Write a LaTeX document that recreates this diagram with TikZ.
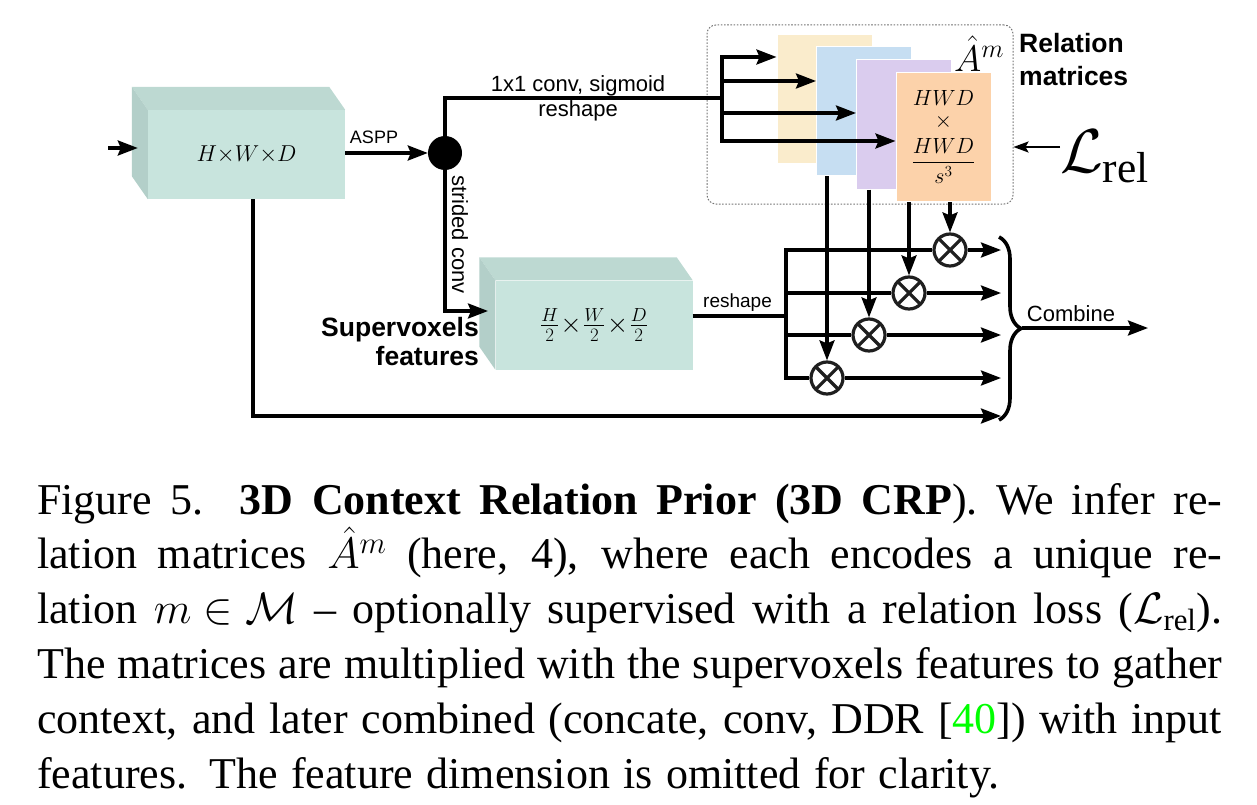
\RequirePackage{fix-cm}
\documentclass[tikz,border=0pt]{standalone}
\usepackage{amsmath}
\usepackage{fontspec}
\setmainfont{Liberation Serif}
\setsansfont{Liberation Sans}
\usetikzlibrary{arrows.meta,decorations.pathreplacing,positioning}
\definecolor{boxfront}{RGB}{200,228,221}
\definecolor{boxtop}{RGB}{189,217,210}
\definecolor{boxside}{RGB}{179,207,201}
\definecolor{matyellow}{RGB}{250,236,204}
\definecolor{matblue}{RGB}{198,222,242}
\definecolor{matpurple}{RGB}{218,204,238}
\definecolor{matorange}{RGB}{252,210,170}
\definecolor{citegreen}{RGB}{0,255,0}
\newcommand{\boxfaces}[1]{%
	\fill[boxtop] (#1.north west) -- ++(-16,23) -- ([shift={(-16,23)}]#1.north east) -- (#1.north east) -- cycle;
	\fill[boxside] (#1.north west) -- ++(-16,23) -- ([shift={(-16,23)}]#1.south west) -- (#1.south west) -- cycle;}
\begin{document}
\begin{tikzpicture}[x=1pt,y=1pt,
	face/.style={fill=boxfront, inner sep=0pt, minimum width=197pt, minimum height=89pt, font=\fontsize{23}{25}\selectfont},
	panel/.style={draw=white, line width=1pt, minimum width=95pt, minimum height=129pt, inner sep=0pt},
	conn/.style={line width=3.2pt},
	arr/.style={conn, -{Stealth[length=20pt, width=15pt, inset=3pt]}},
	lbl/.style={font=\sffamily\fontsize{22}{24}\selectfont, inner sep=0pt},
	heading/.style={font=\sffamily\bfseries\fontsize{26.5}{33}\selectfont, inner sep=0pt},
	mult/.style={circle, draw=black!88, line width=3.2pt, minimum size=32pt, inner sep=0pt,
		path picture={\draw[black!88, line width=3.2pt] (path picture bounding box.north west) -- (path picture bounding box.south east) (path picture bounding box.north east) -- (path picture bounding box.south west);}}]
	\useasboundingbox (0,0) rectangle (1257,-805);
	
	\node[face] (in) at (246.5,-154.5) {$H{\times}W{\times}D$};
	\boxfaces{in}
	\node[face, font=\fontsize{27}{29}\selectfont] (sv) at (594,-325) {$\frac{H}{2}\!\times\!\frac{W}{2}\!\times\!\frac{D}{2}$};
	\boxfaces{sv}
	\node[heading, align=right, anchor=north east, font=\sffamily\bfseries\fontsize{26.5}{29}\selectfont] (svname) at (479,-317) {Supervoxels\\features};
	
	\node[circle, fill=black, minimum size=34pt, inner sep=0pt] (dot) at (445,-153) {};
	\coordinate (inp) at (108,-148);
	\draw[arr] (inp) -- ([xshift=-10pt]in.west |- inp);
	\draw[arr] (in.east |- dot) -- (dot);
	\node[lbl, anchor=base, font=\sffamily\fontsize{18}{20}\selectfont] (aspp) at (374,-144) {ASPP};
	
	\node[draw=black!55, dash pattern=on 1.6pt off 1.6pt, line width=1pt, rounded corners=9pt, minimum width=306pt, minimum height=179pt] (relbox) at (860,-114.5) {};
	\node[panel, fill=matyellow] (ay) at (824.5,-99.5) {};
	\node[panel, fill=matblue] (ab) at (864,-111.5) {};
	\node[panel, fill=matpurple] (ap) at (904,-124.5) {};
	\node[panel, fill=matorange, align=center, font=\fontsize{22}{21.5}\selectfont] (ao) at (943.5,-137) {$HWD$\\$\times$\\[8pt]$\dfrac{HWD}{s^3}$};
	\node[inner sep=0pt, font=\fontsize{37}{37}\selectfont] (amlbl) at (979,-53.5) {$\hat{A}^m$};
	\node[heading, align=left, anchor=north west] (relname) at (1019,-33) {Relation\\matrices};
	\node[inner sep=0pt, anchor=base west, font=\fontsize{62}{62}\selectfont] (lrel) at (1060,-173) {$\mathcal{L}_\mathrm{rel}$};
	\draw[line width=2.2pt, -{Stealth[length=15pt, width=11pt, inset=3pt]}] (lrel.west |- 0,-147) -- (relbox.east |- 0,-147);
	
	\coordinate (fork) at (722,-98);
	\draw[conn] (dot) |- (fork);
	\node[lbl, anchor=base] (convlbl) at (578,-92) {1x1 conv, sigmoid};
	\node[lbl, anchor=base] (reslbl) at (578,-117) {reshape};
	\draw[conn, line cap=rect] (fork |- 0,-57) -- (fork |- 0,-141);
	\foreach \m/\y in {ay/-57, ab/-81, ap/-113, ao/-141}
		\draw[arr] (fork |- 0,\y) -- (\m.west |- 0,\y);
	
	\coordinate (svin) at (488,-311);
	\draw[arr] (dot) |- (svin);
	\node[lbl, rotate=-90, anchor=base west] (stridelbl) at (452,-175) {strided conv};
	
	\node[mult] (m1) at (827,-378) {};
	\node[mult] (m2) at (869,-335) {};
	\node[mult] (m3) at (909,-293) {};
	\node[mult] (m4) at (950,-250) {};
	\draw[arr] (ab.south -| m1) -- (m1);
	\draw[arr] (ap.south -| m2) -- (m2);
	\draw[arr] (ao.south -| m3) -- (m3);
	\draw[arr] (ao.south -| m4) -- (m4);
	
	\coordinate (split) at (786,-316);
	\coordinate (bx) at (1001,-328);
	\draw[conn] (sv.east |- split) -- (split);
	\node[lbl, anchor=base, font=\sffamily\fontsize{19}{21}\selectfont] (reshlbl) at (737.5,-307) {reshape};
	\draw[conn, line cap=rect] (split |- m4) -- (split |- m1);
	\foreach \m in {m1,m2,m3,m4} {
		\draw[conn] (split |- \m) -- (\m);
		\draw[arr] (\m) -- (\m -| bx);
	}
	\coordinate (bot) at (253,-416);
	\draw[arr] (in.south -| bot) |- (bx |- bot);
	
	\draw[line width=3.6pt, decorate, decoration={brace, amplitude=22pt}] (999,-237) -- (999,-420);
	\coordinate (btip) at (1022,-328);
	\coordinate (out) at (1148,-328);
	\draw[arr] (btip) -- (out);
	\node[lbl, anchor=base] (combinelbl) at (1071,-321) {Combine};
	
	\node[inner sep=0pt, anchor=north west, align=left, font=\fontsize{44}{54.8}\selectfont] (caption) at (37,-483) {%
		\makebox[1185pt][s]{Figure 5.\ \ \textbf{3D Context Relation Prior (3D CRP}). We infer re-}\\
		\makebox[1185pt][s]{lation matrices \mbox{$\hat{A}^m$} (here, 4), where each encodes a unique re-}\\
		\makebox[1185pt][s]{lation \mbox{$m\in\mathcal{M}$} -- optionally supervised with a relation loss (\mbox{$\mathcal{L}_\text{rel}$}).}\\
		\makebox[1185pt][s]{The matrices are multiplied with the supervoxels features to gather}\\
		\makebox[1185pt][s]{context, and later combined (concate, conv, DDR [\textcolor{citegreen}{40}]) with input}\\
		\makebox[962pt][s]{features. The feature dimension is omitted for clarity.}};
\end{tikzpicture}
\end{document}
